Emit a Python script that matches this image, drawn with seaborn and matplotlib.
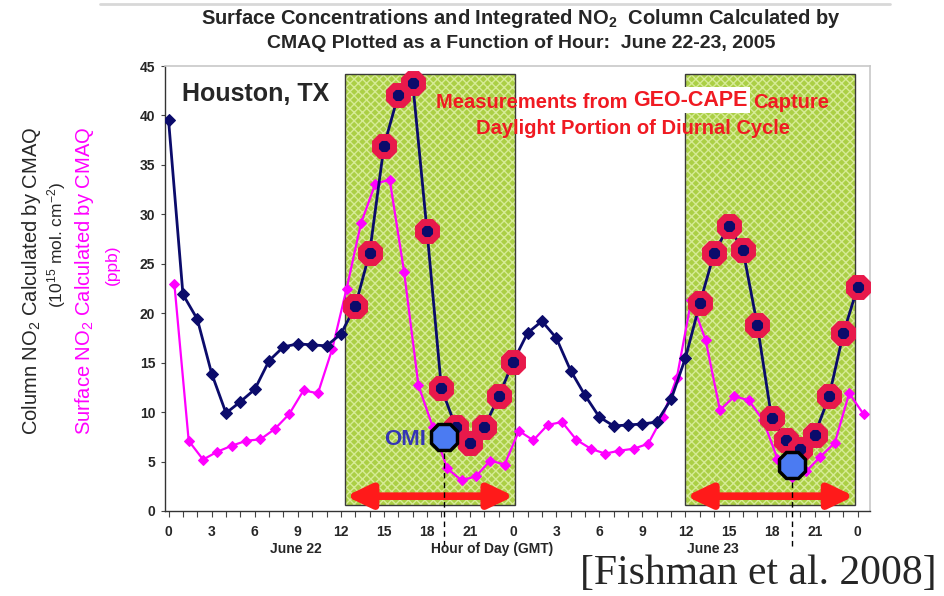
import numpy as np
import matplotlib
matplotlib.use("Agg")
import matplotlib.pyplot as plt
import seaborn as sns
from matplotlib.patches import Rectangle

# hourly CMAQ values, June 22 00 GMT to June 24 00 GMT
hours = list(range(49))
column_no2 = [39.5, 21.9, 19.4, 13.9, 9.9, 11.05, 12.3, 15.2, 16.6, 16.9, 16.8, 16.7, 17.9,
              20.7, 26.1, 36.9, 42.1, 43.3, 28.3, 12.4, 8.5, 6.9, 8.5, 11.6, 15.1,
              18.0, 19.2, 17.5, 14.2, 11.7, 9.5, 8.6, 8.7, 8.8, 9.0, 11.3, 15.5,
              21.0, 26.1, 28.8, 26.4, 18.8, 9.4, 7.2, 6.3, 7.7, 11.6, 18.0, 22.7]
surface_no2 = [23.0, 7.1, 5.2, 6.0, 6.6, 7.1, 7.25, 8.3, 9.8, 12.2, 11.9, 16.4, 22.5,
               29.1, 33.1, 33.5, 24.2, 12.7, 8.5, 4.3, 3.1, 3.5, 5.1, 4.7, 8.1,
               7.15, 8.7, 9.0, 7.2, 6.3, 5.8, 6.1, 6.3, 6.8, 9.5, 13.5, 21.3,
               17.3, 10.2, 11.6, 11.2, 9.2, 5.3, 3.4, 4.0, 5.5, 6.9, 11.9, 9.8]
surface_shift = 0.4

geocape_hours = list(range(13, 25)) + list(range(37, 49))
geocape_windows = [(12.3, 24.1), (36.0, 47.8)]
omi_hours = [19.2, 43.4]
omi_no2 = [7.5, 4.7]

hour_ticks = list(range(0, 49, 3))
hour_labels = [str(h % 24) for h in hour_ticks]

W, H = 944, 596


def px(x, y):
    return x / W, 1 - y / H


sns.set_theme(style='white')
plt.rcParams['font.family'] = ['Liberation Sans', 'DejaVu Sans']
plt.rcParams['mathtext.fontset'] = 'custom'
plt.rcParams['mathtext.rm'] = 'Liberation Sans'
plt.rcParams['mathtext.bf'] = 'Liberation Sans:bold'
plt.rcParams['mathtext.it'] = 'Liberation Sans:italic'
narrow = ['Liberation Sans Narrow', 'Liberation Sans', 'DejaVu Sans']

fig = plt.figure(figsize=(W / 100, H / 100), dpi=100)
ax = fig.add_axes([165 / W, 85 / H, 705 / W, 445 / H])

# faint slide shadow along the top
fig.add_artist(plt.Line2D([100 / W, 890 / W], [1 - 4 / H, 1 - 4 / H], color='#d8d8d8', lw=2))

# GEO-CAPE daylight windows
for x0, x1 in geocape_windows:
    ax.add_patch(Rectangle((x0, 0.6), x1 - x0, 43.6, facecolor='#abcf45',
                           edgecolor='#d6eb96', hatch='xxxx', lw=0, zorder=1))
    ax.add_patch(Rectangle((x0, 0.6), x1 - x0, 43.6, fill=False,
                           edgecolor='#3a3a3a', lw=1, zorder=1.5))
    ax.annotate('', xy=(x1 - 0.05, 1.5), xytext=(x0 + 0.05, 1.5),
                arrowprops=dict(arrowstyle='<|-|>,head_length=0.5,head_width=0.24',
                                color='#ff1a1a', lw=5.5, mutation_scale=30,
                                shrinkA=0, shrinkB=0), zorder=2)

sns.lineplot(x=np.array(hours) + surface_shift, y=surface_no2, ax=ax, color='#ff00ff',
             lw=1.6, marker='D', markersize=5, markeredgecolor='#ff00ff', zorder=3)
sns.lineplot(x=hours, y=column_no2, ax=ax, color='#0b0b6b', lw=2, marker='D',
             markersize=6, markeredgecolor='#0b0b6b', zorder=4)

ax.plot(geocape_hours, [column_no2[h] for h in geocape_hours], ls='none', marker='8',
        ms=14, mfc='#0b0b6b', mec='#e8194b', mew=5, zorder=5)

ax.vlines(omi_hours, -3.5, omi_no2, colors='black', linestyles=(0, (4, 3)), lw=1,
          clip_on=False, zorder=6)
ax.plot(omi_hours, omi_no2, ls='none', marker='8', ms=21, mfc='#4b7bf2', mec='black',
        mew=2.5, zorder=7)
ax.text(17.9, 7.2, 'OMI', ha='right', va='center', color='#3535b5', fontsize=16,
        fontweight='bold', zorder=8)

ax.set_xlim(-0.25, 48.85)
ax.set_ylim(0, 45)
ax.set_xticks(hour_ticks)
ax.set_xticklabels(hour_labels, family=narrow, fontweight='bold', fontsize=10)
ax.set_xticks(hours, minor=True)
ax.set_yticks(range(0, 46, 5))
ax.set_yticklabels([str(v) for v in range(0, 46, 5)], fontweight='bold', fontsize=10)
ax.tick_params(axis='x', which='both', direction='out', length=4, width=0.8,
               color='#444444', pad=6, bottom=True)
ax.tick_params(axis='y', direction='out', length=3, width=0.8, color='#444444', pad=4, left=True)
for side in ['left', 'bottom']:
    ax.spines[side].set_color('#333333')
    ax.spines[side].set_linewidth(1)
for side in ['top', 'right']:
    ax.spines[side].set_color('#c8c8c8')
    ax.spines[side].set_linewidth(1.2)

ax.text(0.9, 42.2, 'Houston, TX', fontsize=18, fontweight='bold', va='center')

# red annotation
red = '#f01a22'
fig.text(*px(628, 102), 'Measurements from', ha='right', va='center', color=red,
         fontsize=14.5, fontweight='bold')
fig.text(*px(633, 100), 'GEO-CAPE', ha='left', va='center', color=red, fontsize=15.5,
         fontweight='bold', bbox=dict(facecolor='white', edgecolor='none', pad=1.5))
fig.text(*px(753, 102), 'Capture', ha='left', va='center', color=red,
         fontsize=14.5, fontweight='bold')
fig.text(*px(633, 128), 'Daylight Portion of Diurnal Cycle', ha='center', va='center',
         color=red, fontsize=14.5, fontweight='bold')

# titles and labels
fig.text(*px(521, 18), r'Surface Concentrations and Integrated NO$_\mathbf{2}$  Column Calculated by',
         ha='center', va='center', family=narrow, fontweight='bold', fontsize=14.5)
fig.text(*px(521, 44), 'CMAQ Plotted as a Function of Hour:  June 22-23, 2005',
         ha='center', va='center', family=narrow, fontweight='bold', fontsize=14)

fig.text(*px(32, 281), 'Column NO$_2$ Calculated by CMAQ', rotation=90, ha='center',
         va='center', fontsize=14.5)
fig.text(*px(57, 245), '(10$^{15}$ mol. cm$^{-2}$)', rotation=90, ha='center',
         va='center', fontsize=12.5)
fig.text(*px(85, 281), 'Surface NO$_2$ Calculated by CMAQ', rotation=90, ha='center',
         va='center', fontsize=14.5, color='#ff00ff')
fig.text(*px(112, 265), '(ppb)', rotation=90, ha='center', va='center', fontsize=12.5,
         color='#ff00ff')

fig.text(*px(296, 549), 'June 22', ha='center', va='center', family=narrow,
         fontweight='bold', fontsize=10)
fig.text(*px(492, 549), 'Hour of Day (GMT)', ha='center', va='center', family=narrow,
         fontweight='bold', fontsize=10)
fig.text(*px(713, 549), 'June 23', ha='center', va='center', family=narrow,
         fontweight='bold', fontsize=10)

fig.text(*px(937, 574), '[Fishman et al. 2008]', ha='right', va='center',
         family=['Liberation Serif', 'DejaVu Serif'], fontsize=30)

fig.savefig('out.png', dpi=100)
